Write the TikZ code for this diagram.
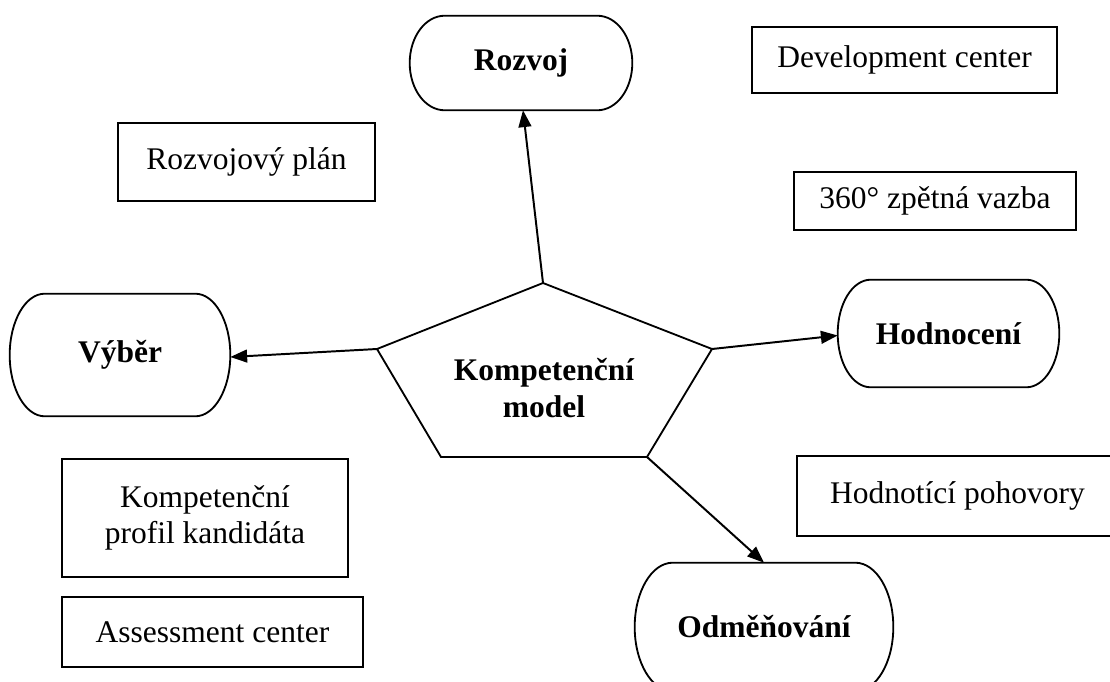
\documentclass[tikz,border=0pt]{standalone}
\usepackage{fontspec}
\setmainfont{Liberation Serif}
\usetikzlibrary{arrows.meta,calc}
\tikzset{
  lbl/.style={inner sep=0pt, align=center, font=\fontsize{22.4pt}{26pt}\selectfont},
  termtext/.style={lbl, font=\fontsize{22.4pt}{26pt}\selectfont\bfseries},
  infobox/.style={lbl, draw, line width=1pt},
  shapeline/.style={line width=1.3pt},
  conn/.style={line width=1.4pt, -{Triangle[length=0.42cm,width=0.32cm]}}
}
\newcommand\termpath[2]{%
  \draw[shapeline] let \p1=(#1.north east), \p2=(#1.south west), \n1={(\y1-\y2)/2} in
    ([xshift=-#2]#1.north east) arc[start angle=90,end angle=-90,x radius=#2,y radius=\n1]
    -- ([xshift=#2]#1.south west) arc[start angle=270,end angle=90,x radius=#2,y radius=\n1]
    -- cycle;}
\begin{document}
\begin{tikzpicture}[x=0.025cm,y=-0.025cm]
\useasboundingbox (0,0) rectangle (1110,682);
\fill[white] (0,0) rectangle (1110,682);
\clip (0,0) rectangle (1110,682);

% terminator shapes
\node[termtext, minimum width=5.55cm, minimum height=2.35cm] (rozvoj) at (521,63) {Rozvoj};
\node[termtext, minimum width=5.5cm, minimum height=3.05cm] (vyber) at (120,355) {Výběr};
\node[termtext, minimum width=5.525cm, minimum height=2.675cm] (hodn) at (948.5,333.5) {Hodnocení};
\node[termtext, minimum width=6.45cm, minimum height=3.2cm] (odm) at (764,627) {Odměňování};
\termpath{rozvoj}{0.875cm}
\termpath{vyber}{0.875cm}
\termpath{hodn}{0.825cm}
\termpath{odm}{0.95cm}

% pentagon
\coordinate (pt) at (543,283);
\coordinate (pr) at (712,349);
\coordinate (pbr) at (647,457);
\coordinate (pbl) at (441,457);
\coordinate (pl) at (377,349);
\draw[shapeline] (pt) -- (pr) -- (pbr) -- (pbl) -- (pl) -- cycle;
\node[termtext] (km) at (544,388) {Kompetenční\\model};

% info boxes
\node[infobox, minimum width=7.625cm, minimum height=1.65cm] (dev) at (904.5,60) {Development center};
\node[infobox, minimum width=6.425cm, minimum height=1.95cm] (plan) at (246.5,162) {Rozvojový plán};
\node[infobox, minimum width=7.05cm, minimum height=1.45cm] (z360) at (935,201) {360° zpětná vazba};
\node[infobox, minimum width=7.15cm, minimum height=2.95cm] (profil) at (205,518) {Kompetenční\\profil kandidáta};
\node[infobox, minimum width=7.525cm, minimum height=1.75cm] (ac) at (212.5,632) {Assessment center};
\node[infobox, minimum width=8.025cm, minimum height=2.0cm] (hp) at (957.5,496) {Hodnotící pohovory};

% connectors
\draw[conn] (pt) -- ([xshift=0.05cm]rozvoj.south);
\draw[conn] (pl) -- ([yshift=-0.05cm]vyber.east);
\draw[conn] (pr) -- ([yshift=-0.05cm]hodn.west);
\draw[conn] (pbr) -- (odm.north);
\end{tikzpicture}
\end{document}
